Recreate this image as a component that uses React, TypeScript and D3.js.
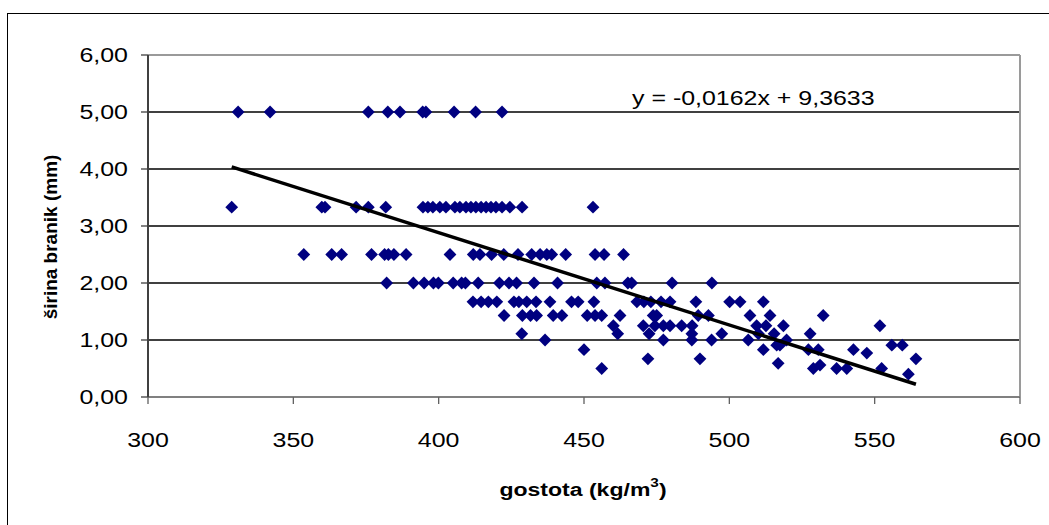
import React from 'react';
import * as d3 from 'd3';

// gostota (kg/m3) values, paired with sirina (mm) values below
const gostota: number[] = [
  // 5.00
  331.0, 342.0, 375.8, 382.5, 386.7, 394.5, 395.6, 405.3, 412.7, 421.8,
  // 3.33
  328.8, 359.8, 360.9, 371.6, 375.8, 381.8, 394.6, 396.3, 398.0, 400.4, 402.5, 405.6, 407.3, 409.4, 411.1, 412.8, 414.6, 416.3, 418.0, 419.7, 421.8, 424.5, 428.7, 453.1,
  // 2.50
  353.6, 363.2, 366.6, 376.9, 381.4, 382.7, 384.6, 388.8, 403.9, 411.9, 414.2, 418.2, 422.4, 427.3, 432.0, 434.9, 437.2, 438.9, 443.7, 453.8, 456.9, 463.6,
  // 2.00
  382.1, 391.3, 395.0, 398.2, 399.9, 405.0, 407.9, 409.2, 413.6, 420.9, 424.2, 426.8, 432.8, 440.9, 454.4, 457.2, 465.1, 466.4, 480.3, 494.0,
  // 1.67
  411.8, 414.6, 417.1, 420.0, 425.9, 427.6, 430.3, 433.5, 438.3, 445.7, 448.0, 453.4, 468.2, 470.6, 473.0, 476.5, 479.6, 488.5, 500.1, 503.7, 511.7,
  // 1.43
  422.5, 428.8, 431.6, 433.7, 439.4, 442.4, 451.1, 453.8, 456.1, 462.4, 473.8, 475.0, 489.3, 492.8, 507.1, 514.0, 532.3,
  // 1.25
  460.1, 470.4, 474.4, 477.3, 479.6, 483.6, 487.2, 509.4, 512.6, 518.6, 551.8,
  // 1.11
  428.6, 461.6, 472.4, 487.1, 497.4, 510.0, 515.4, 527.8,
  // 1.00
  436.6, 477.3, 487.1, 493.9, 506.5, 519.7,
  // 0.91
  516.3, 517.4, 555.9, 559.5,
  // 0.83
  450.0, 511.7, 527.2, 530.6, 542.7,
  // 0.77
  547.3,
  // 0.67
  472.0, 489.9, 564.2,
  // 0.59
  516.8,
  // 0.56
  531.2,
  // 0.50
  456.1, 528.9, 536.9, 540.4, 552.4,
  // 0.40
  561.6,
];

const sirina: number[] = [
  5.0, 5.0, 5.0, 5.0, 5.0, 5.0, 5.0, 5.0, 5.0, 5.0,
  3.33, 3.33, 3.33, 3.33, 3.33, 3.33, 3.33, 3.33, 3.33, 3.33, 3.33, 3.33, 3.33, 3.33, 3.33, 3.33, 3.33, 3.33, 3.33, 3.33, 3.33, 3.33, 3.33, 3.33,
  2.5, 2.5, 2.5, 2.5, 2.5, 2.5, 2.5, 2.5, 2.5, 2.5, 2.5, 2.5, 2.5, 2.5, 2.5, 2.5, 2.5, 2.5, 2.5, 2.5, 2.5, 2.5,
  2.0, 2.0, 2.0, 2.0, 2.0, 2.0, 2.0, 2.0, 2.0, 2.0, 2.0, 2.0, 2.0, 2.0, 2.0, 2.0, 2.0, 2.0, 2.0, 2.0,
  1.67, 1.67, 1.67, 1.67, 1.67, 1.67, 1.67, 1.67, 1.67, 1.67, 1.67, 1.67, 1.67, 1.67, 1.67, 1.67, 1.67, 1.67, 1.67, 1.67, 1.67,
  1.43, 1.43, 1.43, 1.43, 1.43, 1.43, 1.43, 1.43, 1.43, 1.43, 1.43, 1.43, 1.43, 1.43, 1.43, 1.43, 1.43,
  1.25, 1.25, 1.25, 1.25, 1.25, 1.25, 1.25, 1.25, 1.25, 1.25, 1.25,
  1.11, 1.11, 1.11, 1.11, 1.11, 1.11, 1.11, 1.11,
  1.0, 1.0, 1.0, 1.0, 1.0, 1.0,
  0.91, 0.91, 0.91, 0.91,
  0.83, 0.83, 0.83, 0.83, 0.83,
  0.77,
  0.67, 0.67, 0.67,
  0.59,
  0.56,
  0.5, 0.5, 0.5, 0.5, 0.5,
  0.4,
];

const xTicks: number[] = [300, 350, 400, 450, 500, 550, 600];
const yTicks: number[] = [0, 1, 2, 3, 4, 5, 6];
const trendSlope = -0.0162;
const trendIntercept = 9.3633;
const equationLabel = 'y = -0,0162x + 9,3633';
const xTitle = 'gostota (kg/m';
const xTitleSup = '3';
const yTitle = 'širina branik (mm)';

const FONT = 'Arial, "Liberation Sans", sans-serif';
const SX = 1.28; // horizontal stretch of text in the reference

export default function App() {
  const W = 1049;
  const H = 525;
  const plot = { left: 148, right: 1020, top: 55, bottom: 397 };
  const x = d3.scaleLinear().domain([300, 600]).range([plot.left, plot.right]);
  const y = d3.scaleLinear().domain([0, 6]).range([plot.bottom, plot.top]);
  const fmt = (v: number) => v.toFixed(2).replace('.', ',');

  const points = gostota.map((g, i) => ({ g, s: sirina[i] }));
  const xMin = d3.min(gostota) as number;
  const xMax = d3.max(gostota) as number;
  const trend = [xMin, xMax].map((g) => ({ g, s: trendSlope * g + trendIntercept }));
  const linePath = d3
    .line<{ g: number; s: number }>()
    .x((d) => x(d.g))
    .y((d) => y(d.s))(trend) as string;

  const r = 6.4;
  const diamond = `M0,${-r}L${r},0L0,${r}L${-r},0Z`;

  return (
    <svg
      width={W}
      height={H}
      style={{ position: 'absolute', left: 0, top: 0, background: '#fff' }}
      fontFamily={FONT}
    >
      <rect x={0} y={0} width={W} height={H} fill="#fff" />
      {/* outer chart border */}
      <rect x={7.5} y={13.5} width={W + 20} height={H + 20} fill="none" stroke="#000" strokeWidth={1} />

      {/* gridlines */}
      {yTicks
        .filter((t) => t > 0 && t < 6)
        .map((t) => (
          <line key={'g' + t} x1={plot.left} x2={plot.right} y1={y(t)} y2={y(t)} stroke="#000" strokeWidth={1.3} />
        ))}

      {/* plot frame */}
      <line x1={plot.left} x2={plot.right} y1={plot.top} y2={plot.top} stroke="#9a9a9a" strokeWidth={2} />
      <line x1={plot.right} x2={plot.right} y1={plot.top} y2={plot.bottom} stroke="#9a9a9a" strokeWidth={2} />
      <line x1={plot.left} x2={plot.right} y1={plot.bottom} y2={plot.bottom} stroke="#808080" strokeWidth={2} />
      <line x1={plot.left} x2={plot.left} y1={plot.top} y2={plot.bottom} stroke="#404040" strokeWidth={2} />

      {/* y ticks */}
      {yTicks.map((t) => (
        <g key={'y' + t}>
          <line x1={plot.left - 7} x2={plot.left} y1={y(t)} y2={y(t)} stroke="#404040" strokeWidth={1.3} />
          <text
            transform={`translate(128,${y(t) + 7}) scale(${SX},1)`}
            textAnchor="end"
            fontSize={19.5}
            fill="#000"
          >
            {fmt(t)}
          </text>
        </g>
      ))}

      {/* x ticks */}
      {xTicks.map((t) => (
        <g key={'x' + t}>
          <line x1={x(t)} x2={x(t)} y1={plot.bottom} y2={plot.bottom + 7} stroke="#606060" strokeWidth={1.3} />
          <text
            transform={`translate(${x(t)},447) scale(${SX},1)`}
            textAnchor="middle"
            fontSize={19.5}
            fill="#000"
          >
            {t}
          </text>
        </g>
      ))}

      {/* points */}
      {points.map((p, i) => (
        <path key={'p' + i} d={diamond} transform={`translate(${x(p.g)},${y(p.s)})`} fill="#000080" />
      ))}

      {/* trend line */}
      <path d={linePath} fill="none" stroke="#000" strokeWidth={3.5} />

      {/* equation */}
      <text transform={`translate(632,105) scale(${SX},1)`} fontSize={19.5} fill="#000">
        {equationLabel}
      </text>

      {/* axis titles */}
      <text
        transform={`translate(583,496) scale(${SX},1)`}
        textAnchor="middle"
        fontSize={18}
        fontWeight="bold"
        fill="#000"
      >
        {xTitle}
        <tspan fontSize={12} dy={-9}>
          {xTitleSup}
        </tspan>
        <tspan dy={9}>)</tspan>
      </text>
      <text
        transform={`translate(57,237) rotate(-90)`}
        textAnchor="middle"
        fontSize={19}
        fontWeight="bold"
        fill="#000"
      >
        {yTitle}
      </text>
    </svg>
  );
}
